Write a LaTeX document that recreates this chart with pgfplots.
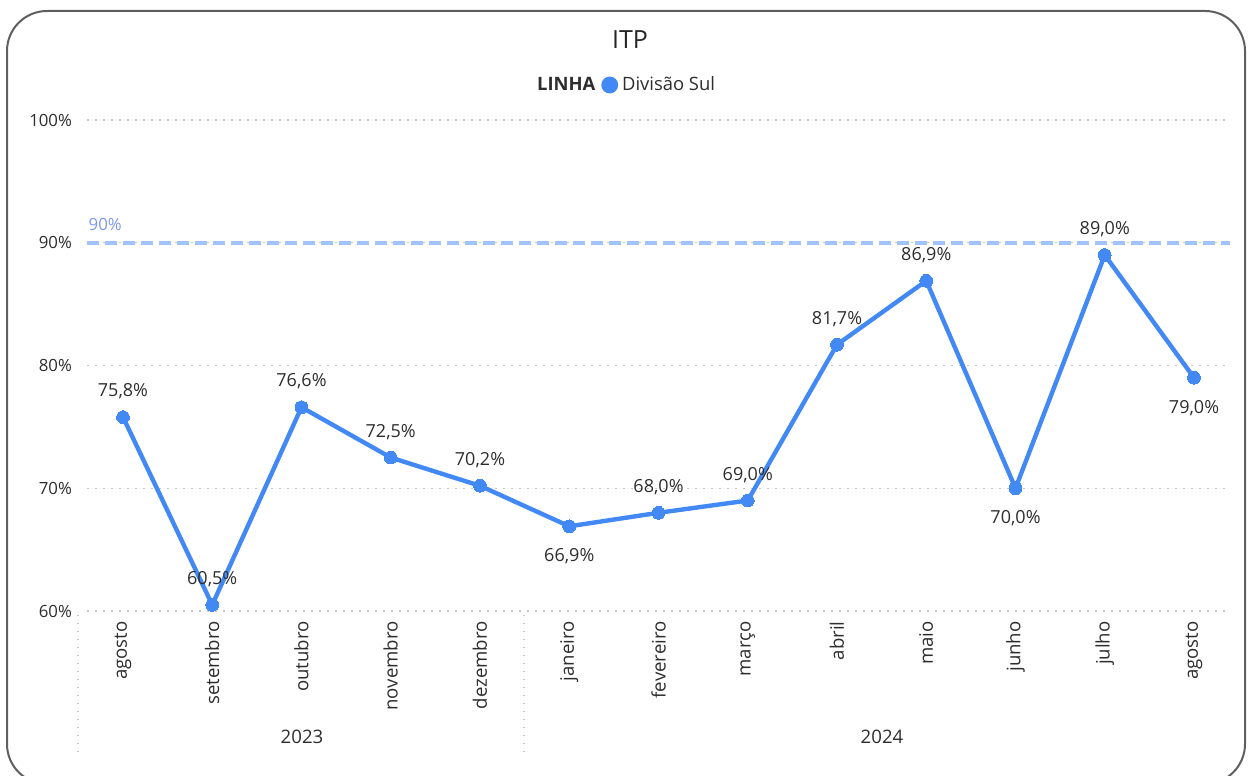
\documentclass[border=0pt]{standalone}
\usepackage{pgfplots}
\pgfplotsset{compat=1.18}
\usepackage{fontspec}
\setmainfont{Open Sans}
\definecolor{lineblue}{RGB}{66,137,245}
\definecolor{targetblue}{RGB}{160,195,250}
\definecolor{targettext}{RGB}{125,150,240}
\definecolor{txt}{RGB}{45,45,45}
\definecolor{framegray}{RGB}{95,95,95}
\begin{document}
\begin{tikzpicture}[x=0.5pt,y=0.5pt]
\useasboundingbox (0,0) rectangle (1248,776);
\draw[framegray, line width=1pt, rounded corners=20pt] (7,765) rectangle (1245,-8);
\node[font=\fontsize{12.5}{14}\selectfont, text=black!85] at (630,736) {ITP};
\begin{axis}[
  at={(43.65pt,82.5pt)}, anchor=south west,
  scale only axis, width=571.2pt, height=245.5pt,
  xmin=-0.4, xmax=12.4, ymin=60, ymax=100,
  clip=false,
  axis line style={draw=none},
  major tick length=0pt,
  ytick={60,70,80,90,100},
  ymajorgrids,
  grid style={gray!45, line width=0.6pt, dash pattern=on 0.6pt off 3.4pt},
  /pgf/number format/assume math mode=true,
  yticklabel={\pgfmathprintnumber{\tick}\%},
  yticklabel style={anchor=east, inner sep=0pt, xshift=-7.5pt, text=txt, font=\fontsize{8.4}{10}\selectfont},
  xtick={0,...,12},
  xticklabels={agosto,setembro,outubro,novembro,dezembro,janeiro,fevereiro,março,abril,maio,junho,julho,agosto},
  xticklabel style={yshift=-5pt, rotate=90, anchor=east, inner sep=0pt, text=txt, font=\fontsize{9.3}{11}\selectfont},
  legend style={at={(0.4716,1.0713)}, anchor=center, draw=none, fill=none, legend columns=-1,
    font=\fontsize{9.2}{11}\selectfont, text=txt,
    /tikz/every even column/.append style={column sep=1pt}},
  nodes near coords style={font=\fontsize{9}{11}\selectfont, text=txt, inner sep=0pt},
]
\addlegendimage{empty legend}
\addlegendentry{\textbf{LINHA}\hspace{5pt}}
% target line
\addplot[forget plot, targetblue, line width=2pt, dash pattern=on 6pt off 3pt] coordinates {(-0.4,90) (12.4,90)};
\node[anchor=base west, text=targettext, font=\fontsize{8.4}{10}\selectfont, inner sep=0pt] at (axis cs:-0.4,90) [xshift=0.5pt, yshift=6.25pt] {90\%};
% main series
\addplot[lineblue, line width=2.2pt, mark=*, mark size=3.2pt, mark options={fill=lineblue, draw=none, line width=0pt},
  legend image code/.code={\fill[lineblue] (0pt,0pt) circle (3.1pt);}]
  coordinates {(0,75.8) (1,60.5) (2,76.6) (3,72.5) (4,70.2) (5,66.9) (6,68.0) (7,69.0) (8,81.7) (9,86.9) (10,70.0) (11,89.0) (12,79.0)};
\addlegendentry{Divisão Sul}
% labels above
\addplot[forget plot, draw=none, mark=none, nodes near coords={\pgfmathprintnumber[fixed,fixed zerofill,precision=1,use comma]{\pgfplotspointmeta}\%},
  every node near coord/.append style={anchor=base, yshift=10.2pt}]
  coordinates {(0,75.8) (1,60.5) (2,76.6) (3,72.5) (4,70.2) (6,68.0) (7,69.0) (8,81.7) (9,86.9) (11,89.0)};
% labels below
\addplot[forget plot, draw=none, mark=none, nodes near coords={\pgfmathprintnumber[fixed,fixed zerofill,precision=1,use comma]{\pgfplotspointmeta}\%},
  every node near coord/.append style={anchor=base, yshift=-17.8pt}]
  coordinates {(5,66.9) (10,70.0) (12,79.0)};
\end{axis}
\draw[gray!45, line width=0.6pt, dash pattern=on 0.6pt off 3.4pt] (78,161) -- (78,24);
\draw[gray!45, line width=0.6pt, dash pattern=on 0.6pt off 3.4pt] (524,161) -- (524,24);
\node[font=\fontsize{9.3}{11}\selectfont, text=txt] at (302,39) {2023};
\node[font=\fontsize{9.3}{11}\selectfont, text=txt] at (882,39) {2024};
\end{tikzpicture}
\end{document}
